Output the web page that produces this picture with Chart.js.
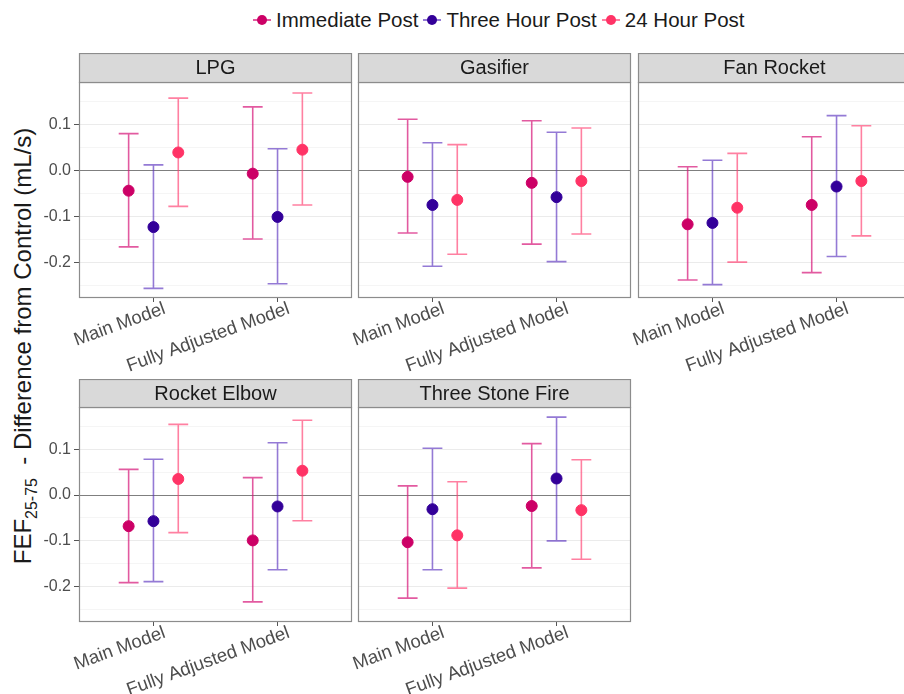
<!DOCTYPE html>
<html>
<head>
<meta charset="utf-8">
<script src="https://cdn.jsdelivr.net/npm/chart.js@4.4.1/dist/chart.umd.min.js"></script>
<style>
    body { margin: 0; background: #fff; font-family: "Liberation Sans", Arial, sans-serif; }
    #wrap { position: relative; width: 904px; height: 694px; overflow: hidden; background: #fff; }
    #wrap canvas { position: absolute; }
    #legend { position: absolute; left: 253px; top: 8px; display: flex; align-items: center; font-size: 20.5px; color: #1a1a1a; white-space: nowrap; }
    .key { position: relative; width: 18px; height: 24px; margin-right: 5px; }
    .key .line { position: absolute; left: 0; right: 0; top: 11px; height: 2px; }
    .key .dot { position: absolute; left: 4px; top: 7px; width: 10px; height: 10px; border-radius: 50%; }
    .item { display: flex; align-items: center; margin-right: 5px; }
    #ytitle { position: absolute; left: 25px; top: 346px; transform: translate(-50%, -50%) rotate(-90deg); font-size: 24px; color: #1a1a1a; white-space: nowrap; }
    #ytitle sub { font-size: 16px; }
</style>
</head>
<body>
<div id="wrap">
    <div id="legend"></div>
    <div id="ytitle">FEF<sub>25-75</sub>&nbsp; - Difference from Control (mL/s)</div>
</div>
<script>
// facets, categories, series
stoves = ["LPG", "Gasifier", "Fan Rocket", "Rocket Elbow", "Three Stone Fire"];
models = ["Main Model", "Fully Adjusted Model"];
series = ["Immediate Post", "Three Hour Post", "24 Hour Post"];

// y axis ticks
yMajor = [-0.2, -0.1, 0, 0.1];
yLabels = ["-0.2", "-0.1", "0.0", "0.1"];
yMinor = [-0.25, -0.15, -0.05, 0.05, 0.15];

// one row per stove: [Main Model, Fully Adjusted Model]
immediateEst = [[-0.044, -0.007], [-0.014, -0.027], [-0.117, -0.075], [-0.068, -0.099], [-0.103, -0.024]];
immediateLo  = [[-0.166, -0.149], [-0.136, -0.160], [-0.238, -0.222], [-0.191, -0.233], [-0.225, -0.159]];
immediateHi  = [[ 0.080,  0.138], [ 0.111,  0.108], [ 0.008,  0.073], [ 0.056,  0.038], [ 0.020,  0.112]];

threeHourEst = [[-0.123, -0.101], [-0.075, -0.058], [-0.114, -0.035], [-0.057, -0.025], [-0.031,  0.036]];
threeHourLo  = [[-0.256, -0.246], [-0.208, -0.198], [-0.248, -0.187], [-0.189, -0.163], [-0.163, -0.100]];
threeHourHi  = [[ 0.012,  0.047], [ 0.060,  0.083], [ 0.022,  0.119], [ 0.078,  0.114], [ 0.102,  0.170]];

dayEst = [[ 0.039,  0.045], [-0.064, -0.023], [-0.081, -0.023], [ 0.035,  0.053], [-0.088, -0.033]];
dayLo  = [[-0.078, -0.075], [-0.182, -0.138], [-0.199, -0.142], [-0.082, -0.056], [-0.203, -0.140]];
dayHi  = [[ 0.157,  0.168], [ 0.056,  0.092], [ 0.037,  0.097], [ 0.154,  0.163], [ 0.029,  0.077]];

est = [immediateEst, threeHourEst, dayEst];
lo = [immediateLo, threeHourLo, dayLo];
hi = [immediateHi, threeHourHi, dayHi];

pointColors = ["#cc0066", "#330099", "#ff3366"];
barColors = ["rgba(214, 20, 120, 0.7)", "rgba(90, 50, 190, 0.65)", "rgba(255, 60, 110, 0.65)"];

FONT = "'Liberation Sans', Arial, sans-serif";
DODGE = 0.2;
CAP = 0.16;
PLOT_W = 273;
Y_AXIS_W = 60;
X_AXIS_H = 80;

// panel boxes (plot area)
panels = [
    {left: 79,  top: 82,  h: 216, strip: 29},
    {left: 358, top: 82,  h: 216, strip: 29},
    {left: 638, top: 82,  h: 216, strip: 29},
    {left: 79,  top: 407, h: 215, strip: 28},
    {left: 358, top: 407, h: 215, strip: 28}
];

errorBars = {
    id: "errorBars",
    beforeDatasetsDraw(chart) {
        const ctx = chart.ctx, x = chart.scales.x, y = chart.scales.y;
        ctx.save();
        chart.data.datasets.forEach((ds, i) => {
            chart.getDatasetMeta(i).data.forEach((pt, j) => {
                const top = y.getPixelForValue(ds.hi[j]);
                const bot = y.getPixelForValue(ds.lo[j]);
                const half = x.getPixelForValue(ds.data[j].x + CAP / 2) - pt.x;
                ctx.strokeStyle = ds.barColor;
                ctx.lineWidth = 1.6;
                ctx.beginPath();
                ctx.moveTo(pt.x, top); ctx.lineTo(pt.x, bot);
                ctx.moveTo(pt.x - half, top); ctx.lineTo(pt.x + half, top);
                ctx.moveTo(pt.x - half, bot); ctx.lineTo(pt.x + half, bot);
                ctx.stroke();
            });
        });
        ctx.restore();
    }
};

// x labels: rotated 20deg, end a little past the tick like ggplot
xLabels = {
    id: "xLabels",
    afterDraw(chart) {
        const ctx = chart.ctx, x = chart.scales.x;
        ctx.save();
        ctx.font = "18.5px " + FONT;
        ctx.fillStyle = "#4d4d4d";
        ctx.textAlign = "right";
        ctx.textBaseline = "alphabetic";
        x.ticks.forEach(t => {
            ctx.save();
            ctx.translate(x.getPixelForValue(t.value) + 13, chart.chartArea.bottom + 15);
            ctx.rotate(-20 * Math.PI / 180);
            ctx.fillText(models[t.value - 1], 0, 0);
            ctx.restore();
        });
        ctx.restore();
    }
};

panelFrame = {
    id: "panelFrame",
    afterDraw(chart, args, opts) {
        const ctx = chart.ctx, a = chart.chartArea;
        ctx.save();
        ctx.strokeStyle = "#8c8c8c";
        ctx.lineWidth = 1.2;
        ctx.strokeRect(a.left + 0.5, a.top + 0.5, a.width - 1, a.height - 1);
        ctx.fillStyle = "#d9d9d9";
        ctx.fillRect(a.left, a.top - opts.height, a.width, opts.height);
        ctx.strokeRect(a.left + 0.5, a.top - opts.height + 0.5, a.width - 1, opts.height);
        ctx.fillStyle = "#1a1a1a";
        ctx.font = "20px " + FONT;
        ctx.textAlign = "center";
        ctx.textBaseline = "middle";
        ctx.fillText(opts.text, a.left + a.width / 2, a.top - opts.height / 2 + 1);
        ctx.restore();
    }
};

document.addEventListener("DOMContentLoaded", function() {
    const wrap = document.getElementById("wrap");

    // legend
    const legend = document.getElementById("legend");
    series.forEach((name, s) => {
        const item = document.createElement("div");
        item.className = "item";
        item.innerHTML = `<div class="key"><div class="line" style="background:${barColors[s]}"></div>` +
            `<div class="dot" style="background:${pointColors[s]}"></div></div><span>${name}</span>`;
        legend.appendChild(item);
    });

    // panels
    stoves.forEach((stove, k) => {
        const p = panels[k];
        const isLeft = (k % 3 === 0);
        const canvas = document.createElement("canvas");
        canvas.width = Y_AXIS_W + PLOT_W + 10;
        canvas.height = p.strip + p.h + X_AXIS_H;
        canvas.style.left = (p.left - Y_AXIS_W) + "px";
        canvas.style.top = (p.top - p.strip) + "px";
        wrap.appendChild(canvas);

        const datasets = series.map((name, s) => ({
            label: name,
            data: models.map((m, i) => ({x: i + 1 + (s - 1) * DODGE, y: est[s][k][i]})),
            lo: lo[s][k],
            hi: hi[s][k],
            backgroundColor: pointColors[s],
            borderColor: pointColors[s],
            barColor: barColors[s],
            pointRadius: 5.5,
            pointHoverRadius: 5.5,
            showLine: false
        }));

        new Chart(canvas.getContext("2d"), {
            type: "scatter",
            data: {datasets: datasets},
            options: {
                responsive: false,
                animation: false,
                events: [],
                layout: {padding: {top: p.strip, right: 10, left: 0, bottom: 0}},
                plugins: {
                    legend: {display: false},
                    tooltip: {enabled: false},
                    panelFrame: {text: stove, height: p.strip}
                },
                scales: {
                    x: {
                        type: "linear",
                        min: 0.4,
                        max: 2.6,
                        afterBuildTicks: s => { s.ticks = models.map((m, i) => ({value: i + 1})); },
                        afterFit: s => { s.height = X_AXIS_H; },
                        ticks: {display: false},
                        grid: {drawOnChartArea: false, drawTicks: true, tickLength: 4, tickColor: "#555"},
                        border: {display: false}
                    },
                    y: {
                        min: -0.277,
                        max: 0.192,
                        afterBuildTicks: s => { s.ticks = yMajor.concat(yMinor).sort((a, b) => a - b).map(v => ({value: v})); },
                        afterFit: s => { s.width = Y_AXIS_W; },
                        ticks: {
                            display: isLeft,
                            callback: v => { const i = yMajor.indexOf(v); return i < 0 ? "" : yLabels[i]; },
                            color: "#4d4d4d",
                            font: {family: FONT, size: 16},
                            padding: 3
                        },
                        grid: {
                            color: c => c.tick.value === 0 ? "#7f7f7f" : (yMajor.indexOf(c.tick.value) >= 0 ? "#ebebeb" : "#f5f5f5"),
                            lineWidth: 1,
                            drawTicks: isLeft,
                            tickLength: 5,
                            tickColor: c => yMajor.indexOf(c.tick.value) >= 0 ? "#555" : "rgba(0,0,0,0)"
                        },
                        border: {display: false}
                    }
                }
            },
            plugins: [errorBars, xLabels, panelFrame]
        });
    });
});
</script>
</body>
</html>
